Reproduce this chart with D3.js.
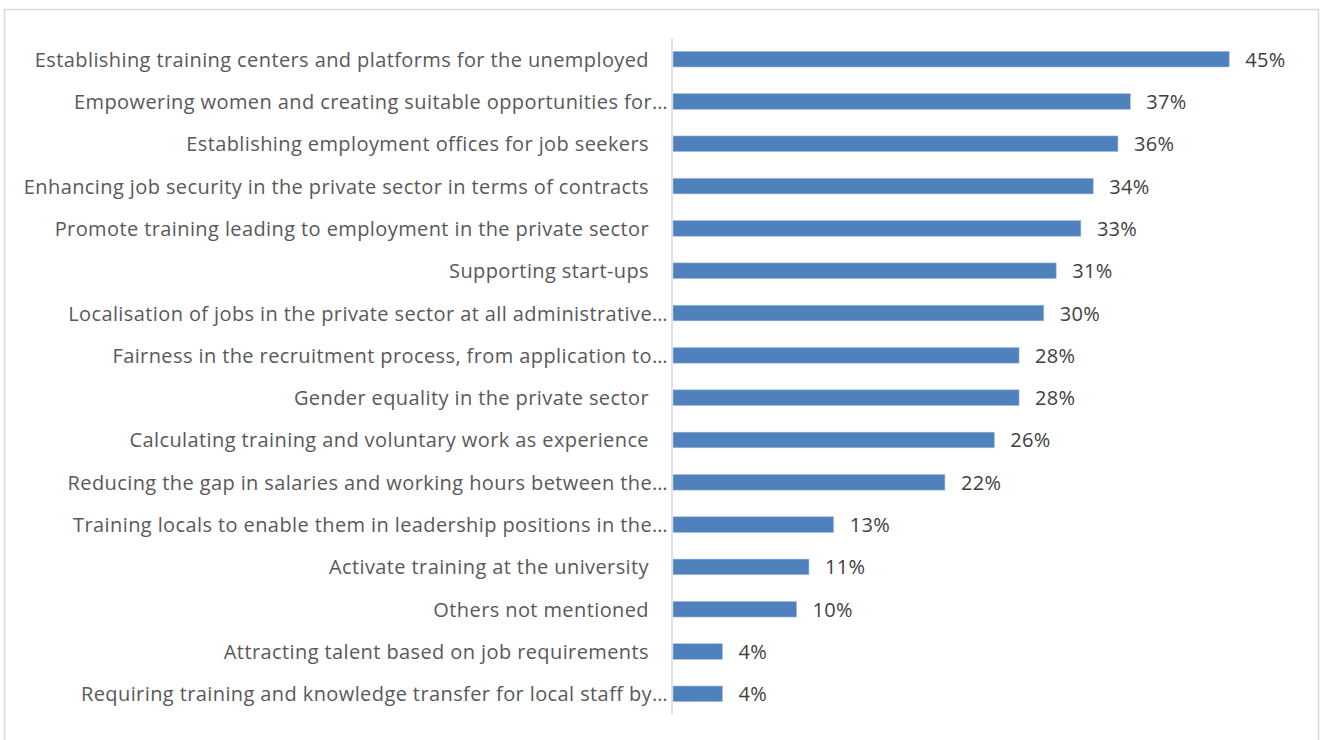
<!DOCTYPE html>
<html>
<head>
<meta charset="utf-8">
<script src="https://cdn.jsdelivr.net/npm/d3@7"></script>
<style>
  html, body { margin: 0; padding: 0; background: #fff; }
  svg { display: block; }
</style>
</head>
<body>
<svg id="chart" width="1320" height="740"></svg>
<script>
// Survey measures, in display order (top to bottom)
const categories = [
  "Establishing training centers and platforms for the unemployed",
  "Empowering women and creating suitable opportunities for…",
  "Establishing employment offices for job seekers",
  "Enhancing job security in the private sector in terms of contracts",
  "Promote training leading to employment in the private sector",
  "Supporting start-ups",
  "Localisation of jobs in the private sector at all administrative…",
  "Fairness in the recruitment process, from application to…",
  "Gender equality in the private sector",
  "Calculating training and voluntary work as experience",
  "Reducing the gap in salaries and working hours between the…",
  "Training locals to enable them in leadership positions in the…",
  "Activate training at the university",
  "Others not mentioned",
  "Attracting talent based on job requirements",
  "Requiring training and knowledge transfer for local staff by…"
];
const shares = [45, 37, 36, 34, 33, 31, 30, 28, 28, 26, 22, 13, 11, 10, 4, 4];

const svg = d3.select("#chart");

// Chart area frame
svg.append("rect")
  .attr("x", 4.5).attr("y", 9.5)
  .attr("width", 1314).attr("height", 740)
  .attr("fill", "#fff")
  .attr("stroke", "#d9d9d9").attr("stroke-width", 1.5);

const x = d3.scaleLinear().domain([0, 50]).range([673, 1291]);
const y = d3.scaleBand().domain(categories).range([38, 715])
  .paddingInner(0.63).paddingOuter(0.315);

// Bars
svg.append("g").selectAll("rect")
  .data(categories)
  .join("rect")
  .attr("x", x(0))
  .attr("y", d => y(d))
  .attr("width", (d, i) => x(shares[i]) - x(0))
  .attr("height", y.bandwidth())
  .attr("fill", "#4f81bd")
  .attr("stroke", "#a7c0de").attr("stroke-width", 0.6);

// Category axis line
svg.append("line")
  .attr("x1", 672).attr("x2", 672)
  .attr("y1", 38).attr("y2", 715)
  .attr("stroke", "#d9d9d9").attr("stroke-width", 1.5);

const font = "'Open Sans', sans-serif";

// Category labels (truncated ones run to the axis)
svg.append("g").selectAll("text")
  .data(categories)
  .join("text")
  .attr("x", d => d.endsWith("…") ? 668 : 649)
  .attr("y", d => y(d) + y.bandwidth() / 2 + 0.5)
  .attr("dy", "0.35em")
  .attr("text-anchor", "end")
  .attr("font-family", font)
  .attr("font-size", 20)
  .attr("letter-spacing", 0.4)
  .attr("fill", "#595959")
  .text(d => d);

// Value labels
svg.append("g").selectAll("text")
  .data(categories)
  .join("text")
  .attr("x", (d, i) => x(shares[i]) + 16)
  .attr("y", d => y(d) + y.bandwidth() / 2 + 0.5)
  .attr("dy", "0.35em")
  .attr("font-family", font)
  .attr("font-size", 20)
  .attr("letter-spacing", 0.3)
  .attr("fill", "#404040")
  .text((d, i) => shares[i] + "%");
</script>
</body>
</html>
